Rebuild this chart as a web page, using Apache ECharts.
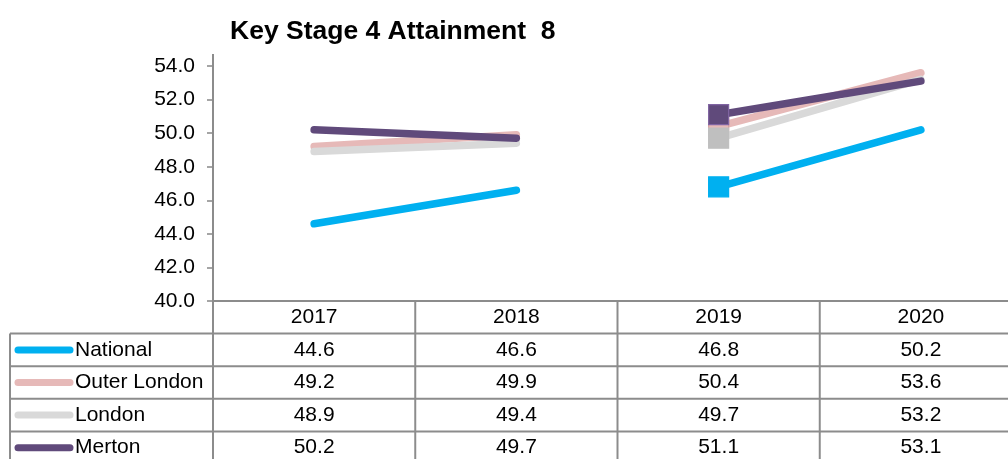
<!DOCTYPE html>
<html><head><meta charset="utf-8">
<script src="https://cdn.jsdelivr.net/npm/echarts@6/dist/echarts.min.js"></script>
<style>html,body{margin:0;padding:0;background:#fff}#c{width:1008px;height:459px}</style>
</head><body><div id="c"></div>
<script>
// ---- data ----
const titleText = 'Key Stage 4 Attainment  8';
const categories = ['2017', '2018', '2019', '2020'];
const seriesNames = ['National', 'Outer London', 'London', 'Merton'];
const national = [44.6, 46.6, 46.8, 50.2];
const outerLondon = [49.2, 49.9, 50.4, 53.6];
const london = [48.9, 49.4, 49.7, 53.2];
const merton = [50.2, 49.7, 51.1, 53.1];
const yMin = 40, yMax = 54, yStep = 2;
// index where the second segment starts (gap before it)
const breakIndex = 2;

// ---- styles / layout ----
const FONT = '"Liberation Sans", Arial, sans-serif';
const lineColors = ['#00B0F0', '#E6B9B8', '#D9D9D9', '#604A7B'];
const markerColors = ['#00B0F0', '#E6B9B8', '#BFBFBF', '#604A7B'];
const markerBorders = ['#00B0F0', '#D9A3A2', '#BFBFBF', '#8064A2'];
const GRID_LEFT = 213, GRID_TOP = 66, GRID_W = 809, AXIS_Y = 301;
const H = 459, W = 1008;
const ROW_H = 32.6;
const TABLE_LEFT = 10;
const BORDER = '#8C8C8C';
const TXT = 21;

const values = [national, outerLondon, london, merton];

const chart = echarts.init(document.getElementById('c'), null, {renderer: 'canvas'});

const series = [];
values.forEach((vals, si) => {
  const early = vals.map((v, i) => i < breakIndex ? v : '-');
  const late = vals.map((v, i) => {
    if (i < breakIndex) return '-';
    if (i === breakIndex) return {value: v, symbol: 'rect', symbolSize: 20,
      itemStyle: {color: markerColors[si], borderColor: markerBorders[si], borderWidth: 1.2, opacity: 1}};
    return v;
  });
  const common = {
    type: 'line', name: seriesNames[si], symbol: 'none', showSymbol: true,
    connectNulls: false, animation: false, silent: true,
    lineStyle: {color: lineColors[si], width: 7.5, cap: 'round', join: 'round'},
    itemStyle: {color: lineColors[si]},
    z: 2 + si
  };
  series.push(Object.assign({}, common, {data: early}));
  series.push(Object.assign({}, common, {data: late}));
});

chart.setOption({
  animation: false,
  backgroundColor: '#fff',
  title: {text: titleText, left: 230, top: 18, padding: 0,
    textStyle: {fontFamily: FONT, fontSize: 26.5, fontWeight: 'bold', color: '#000'}},
  grid: {left: GRID_LEFT, top: GRID_TOP, width: GRID_W, height: AXIS_Y - GRID_TOP,
    containLabel: false, outerBoundsMode: 'none'},
  xAxis: {type: 'category', data: categories, boundaryGap: true,
    axisLine: {show: true, lineStyle: {color: BORDER, width: 2}},
    axisTick: {show: false},
    axisLabel: {margin: 6, fontFamily: FONT, fontSize: TXT, color: '#000'},
    splitLine: {show: false}},
  yAxis: {type: 'value', min: yMin, max: yMax, interval: yStep,
    axisLine: {show: true, lineStyle: {color: '#888', width: 1.5}},
    axisTick: {show: true, length: 6, lineStyle: {color: '#888', width: 1.5}},
    axisLabel: {margin: 18, fontFamily: FONT, fontSize: TXT, color: '#000',
      formatter: v => v.toFixed(1)},
    splitLine: {show: false}},
  series: series
});

// ---- data table drawn below the axis ----
const centers = categories.map((c, i) => chart.convertToPixel({xAxisIndex: 0}, i));
const colW = GRID_W / categories.length;
const right = GRID_LEFT + GRID_W;
const g = [];
const line = (x1, y1, x2, y2) => g.push({type: 'line', silent: true, z: 10,
  shape: {x1, y1, x2, y2}, style: {stroke: BORDER, lineWidth: 2}});
// vertical column boundaries
for (let i = 1; i <= categories.length; i++) {
  const x = GRID_LEFT + i * colW;
  line(x, AXIS_Y, x, H + 5);
}
line(GRID_LEFT, GRID_TOP - 12, GRID_LEFT, H + 5);
line(TABLE_LEFT, AXIS_Y + ROW_H, TABLE_LEFT, H + 5);
// horizontal row lines
for (let r = 1; r <= seriesNames.length; r++) {
  const y = AXIS_Y + r * ROW_H;
  line(TABLE_LEFT, y, right, y);
}
// rows
seriesNames.forEach((name, si) => {
  const cy = AXIS_Y + (si + 1) * ROW_H + ROW_H / 2;
  g.push({type: 'line', silent: true, z: 11,
    shape: {x1: 18, y1: cy, x2: 70, y2: cy},
    style: {stroke: lineColors[si], lineWidth: 7, lineCap: 'round'}});
  g.push({type: 'text', silent: true, z: 11, x: 75, y: cy,
    style: {text: name, font: TXT + 'px ' + FONT, fill: '#000',
      align: 'left', verticalAlign: 'middle', textAlign: 'left', textVerticalAlign: 'middle'}});
  values[si].forEach((v, ci) => {
    g.push({type: 'text', silent: true, z: 11, x: centers[ci], y: cy,
      style: {text: v.toFixed(1), font: TXT + 'px ' + FONT, fill: '#000',
        align: 'center', verticalAlign: 'middle', textAlign: 'center', textVerticalAlign: 'middle'}});
  });
});
chart.setOption({graphic: {elements: g}});
</script>
</body></html>
